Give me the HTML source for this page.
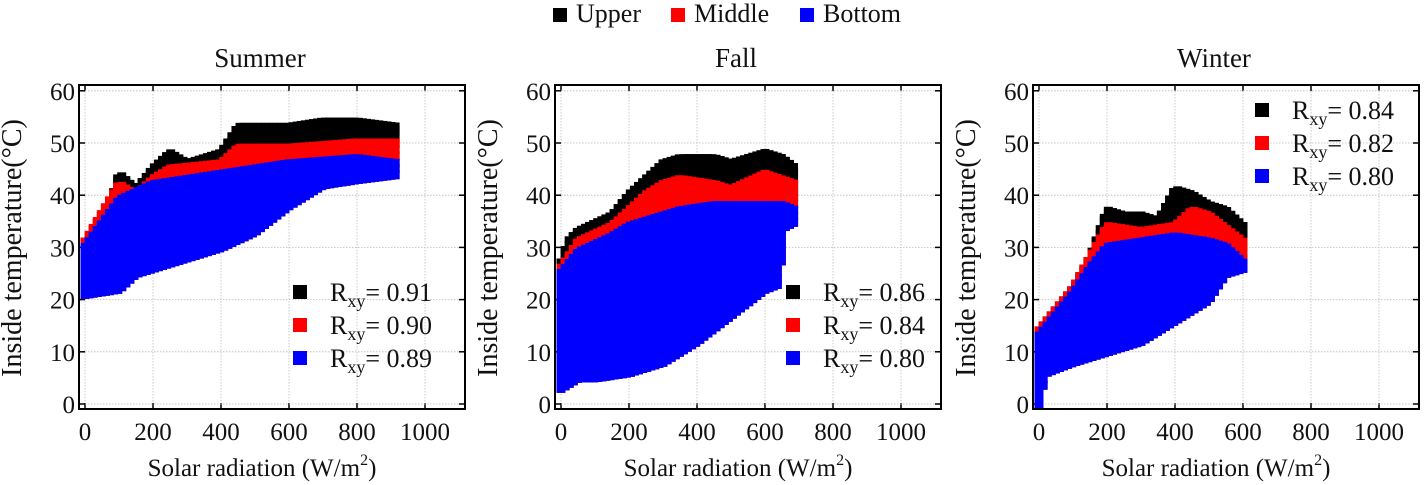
<!DOCTYPE html>
<html><head><meta charset="utf-8"><style>
body{margin:0;background:#fff;width:1424px;height:485px;overflow:hidden}
svg{display:block}
text{font-family:"Liberation Serif",serif;fill:#111}
</style></head><body>
<svg id="chart" width="1424" height="485" viewBox="0 0 1424 485">
<g id="toplegend">
<rect x="553" y="8" width="14" height="14" fill="#000"/>
<text x="576" y="22" font-size="26">Upper</text>
<rect x="671" y="8" width="14" height="14" fill="#f00"/>
<text x="694" y="22" font-size="26">Middle</text>
<rect x="800" y="8" width="14" height="14" fill="#00f"/>
<text x="823" y="22" font-size="26">Bottom</text>
</g>
</svg>
<script>
const seasons=["Summer","Fall","Winter"];
const xTicks=[0,200,400,600,800,1000];
const yTicks=[0,10,20,30,40,50,60];
const rLabels=[["0.91","0.90","0.89"],["0.86","0.84","0.80"],["0.84","0.82","0.80"]];
// envelopes: [radiation, temperature]
const summerUpperTop=[[0,31],[50,33],[100,44],[150,41],[200,45],[250,48],[300,46],[400,48],[450,53],[500,53],[600,53],[700,54],[800,54],[920,53]];
const summerMiddleTop=[[0,31],[100,42],[150,40],[200,43],[250,45],[400,46],[450,49],[600,49],[800,50],[920,50]];
const summerBottomTop=[[0,30],[100,39],[200,42],[300,43],[400,44],[500,45],[600,46],[800,47],[920,46]];
const summerLow=[[0,21],[100,22],[150,25],[200,26],[300,28],[400,30],[500,33],[600,38],[700,42],[800,43],[920,44]];
const fallUpperTop=[[0,27],[20,31],[50,33],[150,36],[200,40],[250,43],[300,46],[350,47],[450,47],[500,46],[550,47],[600,48],[650,47],[690,45]];
const fallMiddleTop=[[0,26],[50,31],[150,34],[200,37],[250,40],[300,42],[350,43],[450,42],[500,41],[600,44],[690,42]];
const fallBottomTop=[[0,25],[50,29],[150,32],[200,34],[250,35],[350,37],[450,38],[550,38],[650,38],[690,37]];
const fallLow=[[0,3],[50,5],[100,5],[200,6],[300,8],[400,12],[500,17],[600,22],[640,23],[660,34],[690,35]];
const winterUpperTop=[[0,14],[100,22],[150,28],[200,37],[250,36],[300,36],[350,35],[400,41],[450,40],[500,38],[550,37],[600,34]];
const winterMiddleTop=[[0,14],[100,22],[150,28],[200,34],[300,33],[400,34],[450,37],[500,36],[600,31]];
const winterBottomTop=[[0,13],[100,21],[150,26],[200,30],[300,31],[400,32],[500,31],[550,30],[600,27]];
const winterLow=[[0,0],[20,6],[100,8],[200,10],[300,12],[400,16],[500,20],[550,25],[600,26]];

const panelData=[[summerUpperTop,summerMiddleTop,summerBottomTop,summerLow],[fallUpperTop,fallMiddleTop,fallBottomTop,fallLow],[winterUpperTop,winterMiddleTop,winterBottomTop,winterLow]];
const colors=["#000","#f00","#00f"];
const names=["upper","middle","bottom"];
const lefts=[79,555,1033], W=386, plotTop=85, plotBottom=409;
const NS="http://www.w3.org/2000/svg";
const svg=document.getElementById('chart');
function mk(t,a,p){const e=document.createElementNS(NS,t);for(const k in a)e.setAttribute(k,a[k]);(p||svg).appendChild(e);return e;}
function interp(arr,x){if(x<=arr[0][0])return arr[0][1];for(let i=1;i<arr.length;i++){if(x<=arr[i][0]){const a=arr[i-1],b=arr[i];return a[1]+(b[1]-a[1])*(x-a[0])/(b[0]-a[0]);}}return arr[arr.length-1][1];}
const legendPos=[[300,292],[793,292],[1262,110]];
seasons.forEach((s,pi)=>{
  const L=lefts[pi];
  const xs=v=>L+6+v*0.34;
  const ys=v=>404-v*5.22;
  const g=mk('g',{});
  
  
  const t=mk('text',{x:L+W/2-12,y:67,'text-anchor':'middle','font-size':27},g);t.textContent=s;
  
  
  xTicks.forEach(v=>{
    const l=mk('line',{x1:xs(v),x2:xs(v),y1:plotTop,y2:plotBottom,stroke:'#bbb','stroke-width':0.8,'stroke-dasharray':'1.5,1.5'},g);
    
    
    mk('line',{x1:xs(v),x2:xs(v),y1:plotBottom,y2:plotBottom-6,stroke:'#000','stroke-width':1.5},g);
    mk('line',{x1:xs(v),x2:xs(v),y1:plotTop,y2:plotTop+6,stroke:'#000','stroke-width':1.5},g);
    const tl=mk('text',{x:xs(v),y:440,'text-anchor':'middle','font-size':25},g);tl.textContent=v;
    
    
  });
  yTicks.forEach(v=>{
    const l=mk('line',{x1:L,x2:L+W,y1:ys(v),y2:ys(v),stroke:'#bbb','stroke-width':0.8,'stroke-dasharray':'1.5,1.5'},g);
    
    
    mk('line',{x1:L,x2:L+6,y1:ys(v),y2:ys(v),stroke:'#000','stroke-width':1.5},g);
    mk('line',{x1:L+W,x2:L+W-6,y1:ys(v),y2:ys(v),stroke:'#000','stroke-width':1.5},g);
    const tl=mk('text',{x:L-4,y:ys(v)+9,'text-anchor':'end','font-size':25},g);tl.textContent=v;
    
    
  });
  const d=panelData[pi], low=d[3];
  const xmax=d[0][d[0].length-1][0];
  for(let k=0;k<3;k++){
    const sg=mk('g',{fill:colors[k]},g);
    
    
    for(let x=0;x<=xmax;x+=12){
      const hi=interp(d[k],x), lo=interp(low,x);
      for(let y=lo;y<=hi;y+=1.2){
        mk('rect',{x:xs(x)-4.5,y:ys(y)-4.5,width:9,height:9},sg);
      }
      mk('rect',{x:xs(x)-4.5,y:ys(hi)-4.5,width:9,height:9},sg);
    }
  }
  const fr=mk('rect',{x:L,y:plotTop,width:W,height:plotBottom-plotTop,fill:'none',stroke:'#000','stroke-width':2},g);
  
  
  const [lx,ly]=legendPos[pi];
  for(let k=0;k<3;k++){
    const yy=ly+k*33;
    const r=mk('rect',{x:lx-7,y:yy-7,width:14,height:14,fill:colors[k]},g);
    
    
    const tx=mk('text',{x:lx+30,y:yy+9,'font-size':26},g);
    tx.innerHTML='R<tspan font-size="18" dy="6">xy</tspan><tspan dy="-6">= '+rLabels[pi][k]+'</tspan>';
    
    
  }
  const yt=mk('text',{x:0,y:0,'text-anchor':'middle','font-size':28,transform:`translate(${L-58},248) rotate(-90)`},g);
  yt.textContent='Inside temperature(°C)';
  
  
  const xt=mk('text',{x:L+W/2-10,y:476,'text-anchor':'middle','font-size':25},g);
  xt.innerHTML='Solar radiation (W/m<tspan font-size="16" dy="-11">2</tspan><tspan dy="11">)</tspan>';
  
  
});
</script>
</body></html>
